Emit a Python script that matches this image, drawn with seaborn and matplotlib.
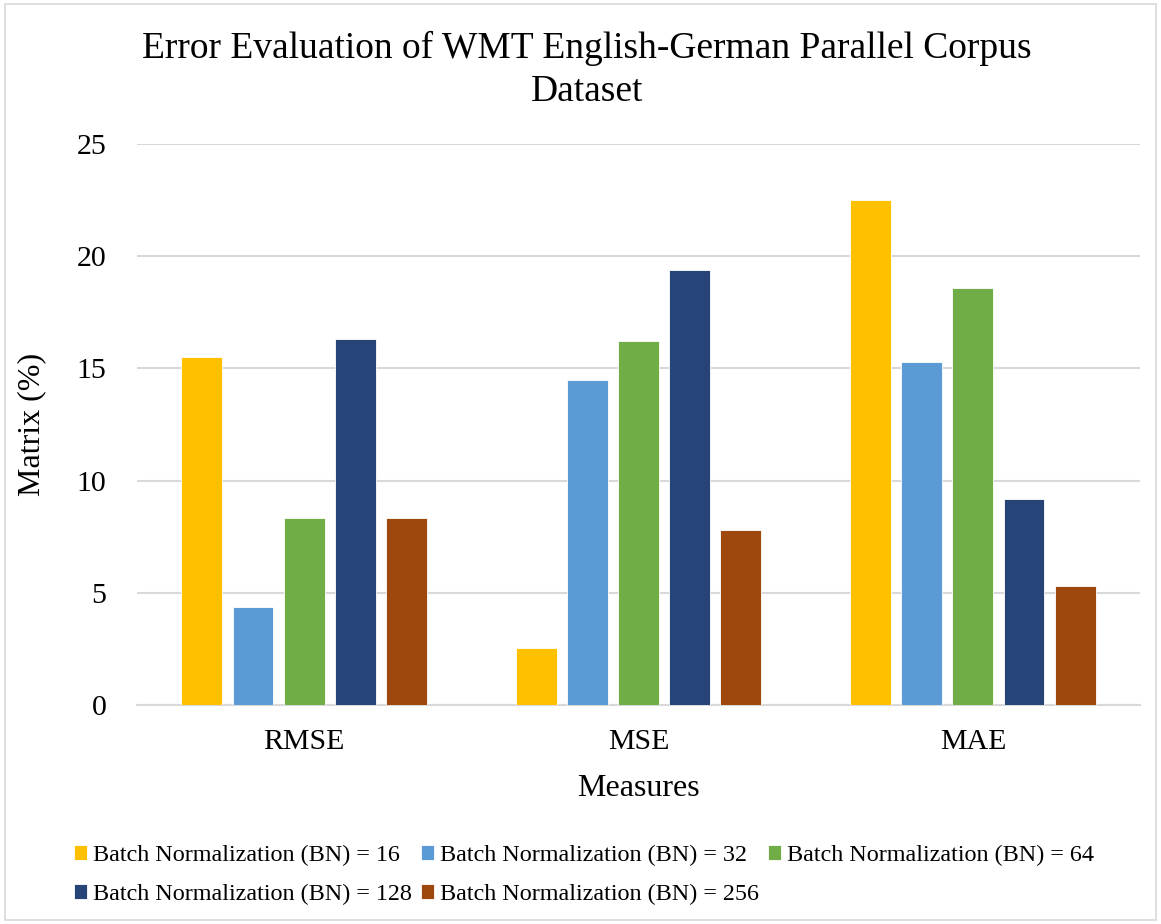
import numpy as np
import pandas as pd
import matplotlib
matplotlib.use("Agg")
import matplotlib.pyplot as plt
import seaborn as sns
from matplotlib.patches import Rectangle

# Data
measures = ["RMSE", "MSE", "MAE"]
series = ["Batch Normalization (BN) = 16", "Batch Normalization (BN) = 32",
          "Batch Normalization (BN) = 64", "Batch Normalization (BN) = 128",
          "Batch Normalization (BN) = 256"]
bn16 = [15.5, 2.55, 22.5]
bn32 = [4.35, 14.5, 15.3]
bn64 = [8.35, 16.2, 18.6]
bn128 = [16.3, 19.4, 9.2]
bn256 = [8.35, 7.8, 5.3]
colors = ["#FFC000", "#5B9BD5", "#70AD47", "#264478", "#9E480E"]

rows = []
for name, vals in zip(series, [bn16, bn32, bn64, bn128, bn256]):
    for m, v in zip(measures, vals):
        rows.append({"Measures": m, "Series": name, "Value": v})
df = pd.DataFrame(rows)

sns.set_style("white")
plt.rcParams["font.family"] = ["Liberation Serif", "DejaVu Serif"]
plt.rcParams["text.color"] = "black"
plt.rcParams["axes.labelcolor"] = "black"
plt.rcParams["xtick.color"] = "black"
plt.rcParams["ytick.color"] = "black"

fig = plt.figure(figsize=(11.61, 9.24), dpi=100)
ax = fig.add_axes([137/1161, 1 - 705/924, (1140 - 137)/1161, (705 - 144)/924])

sns.barplot(data=df, x="Measures", y="Value", hue="Series", order=measures,
            hue_order=series, palette=colors, width=0.765, gap=0.2,
            edgecolor="white", linewidth=0.6, saturation=1, ax=ax, zorder=3)

ax.set_ylim(0, 25)
ax.set_yticks([0, 5, 10, 15, 20, 25])
ax.yaxis.grid(True, color="#d9d9d9", linewidth=1.5, zorder=0)
ax.set_axisbelow(True)
for s in ["top", "right", "left"]:
    ax.spines[s].set_visible(False)
ax.spines["bottom"].set_color("#d9d9d9")
ax.spines["bottom"].set_linewidth(1.5)
ax.tick_params(axis="both", length=0, labelsize=21.5)
ax.tick_params(axis="y", pad=22)
ax.tick_params(axis="x", pad=17)
ax.set_xlabel("Measures", fontsize=23, labelpad=14)
ax.set_ylabel("Matrix (%)", fontsize=23, labelpad=22)

# row-major legend order: matplotlib fills columns first
handles, labels = ax.get_legend_handles_labels()
ax.legend_.remove()
order = [0, 3, 1, 4, 2]
fig.legend([handles[i] for i in order], [labels[i] for i in order],
           loc="center", bbox_to_anchor=(584/1161, 1 - 875/924),
           ncol=3, frameon=False, fontsize=17.4, handlelength=0.55, handleheight=0.55,
           handletextpad=0.25, columnspacing=0.35, labelspacing=0.75)

fig.text(587/1161, 1 - 70/924, "Error Evaluation of WMT English-German Parallel Corpus\nDataset",
         ha="center", va="center", fontsize=27, linespacing=1.3)

fig.patches.append(Rectangle((0.004, 0.004), 0.992, 0.992, transform=fig.transFigure,
                             fill=False, edgecolor="#d9d9d9", linewidth=1.2))

fig.savefig("out.png", dpi=100)
